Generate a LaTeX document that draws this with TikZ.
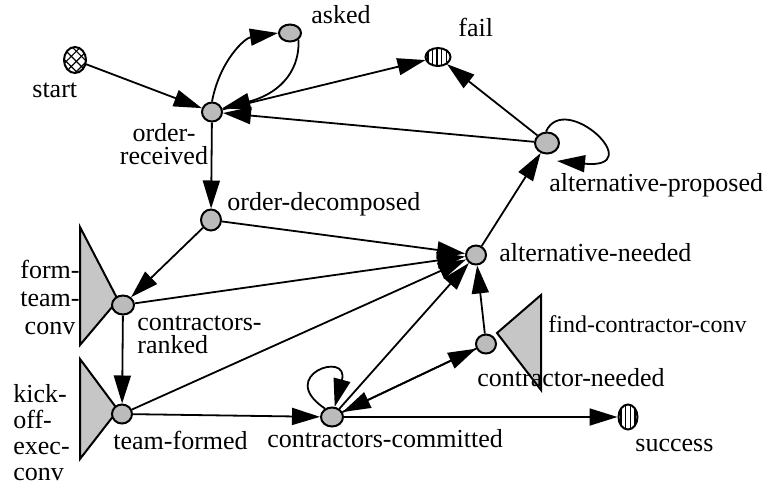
\documentclass[tikz,border=0pt]{standalone}
\usepackage{fontspec}
\setmainfont{Liberation Serif}
\newfontfamily\wfserif{Liberation Serif}
\usepackage{tikz}
\usetikzlibrary{arrows.meta,shapes.geometric,patterns.meta}
\definecolor{wfink}    {HTML}{000000}
\definecolor{wfstipple}{HTML}{BBBBBB}
\definecolor{wfconvbg} {HTML}{C6C6C6}
\tikzset{
  wfstate/.style={ellipse, draw=wfink, line width=1pt, fill=wfstipple, inner sep=0pt,
                  minimum width=10pt, minimum height=9.5pt},
  wfstart/.style={wfstate, fill=white,
                  preaction={pattern={Lines[angle=45,distance=3.6pt,line width=0.6pt]}},
                  pattern={Lines[angle=-45,distance=3.6pt,line width=0.6pt]},
                  minimum width=11pt, minimum height=13pt},
  wfend/.style={wfstate, fill=white,
                pattern={Lines[angle=90,distance=2.3pt,line width=0.7pt]}},
  wfconv/.style={draw=wfink, line width=1pt, fill=wfconvbg, line join=miter},
  wfedge/.style={-{Triangle[length=14pt,width=8.5pt]}, draw=wfink, line width=0.9pt},
  wflabel/.style={font=\wfserif\fontsize{13}{14}\selectfont, inner sep=0pt},
}
\begin{document}
\begin{tikzpicture}[x=0.5pt,y=-0.5pt]
  \useasboundingbox (0,0) rectangle (767,484);
  % conversations
  \draw[wfconv] (80,227) -- (80,345) -- (118,300) -- cycle;
  \draw[wfconv] (80,359) -- (80,459) -- (118,410) -- cycle;
  \draw[wfconv] (541,295) -- (541,390) -- (497,333) -- cycle;
  % states
  \node[wfstart] (start) at (75,60) {};
  \node[wfstate, minimum width=11pt, minimum height=8.5pt] (asked) at (290,33) {};
  \node[wfend, minimum width=12.5pt, minimum height=9pt] (fail) at (438,57) {};
  \node[wfstate] (ordrec) at (212,112) {};
  \node[wfstate, minimum height=10.5pt] (orddec) at (211,220) {};
  \node[wfstate, minimum width=12pt, minimum height=10.5pt] (altprop) at (547,143) {};
  \node[wfstate] (altneed) at (476,255) {};
  \node[wfstate, minimum width=11pt] (ctrrank) at (123,305) {};
  \node[wfstate] (teamform) at (122,414) {};
  \node[wfstate, minimum width=11pt] (ctrcomm) at (332,417) {};
  \node[wfstate] (ctrneed) at (486,344) {};
  \node[wfend, minimum width=9.5pt, minimum height=12.5pt] (success) at (628,417) {};
  \coordinate (apback) at (557,161);
  % labels
  \node[wflabel, anchor=base west] (lstart) at (32,97) {start};
  \node[wflabel, anchor=base west] (lasked) at (311,23) {asked};
  \node[wflabel, anchor=base west] (lfail) at (458,36) {fail};
  \node[wflabel, anchor=north, align=center] (lordrec) at (164,123) {order-\\[-2.5pt]received};
  \node[wflabel, anchor=base west] (lorddec) at (227,210) {order-decomposed};
  \node[wflabel, anchor=base west] (laltprop) at (549,191) {alternative-proposed};
  \node[wflabel, anchor=base west] (laltneed) at (499,261) {alternative-needed};
  \node[wflabel, anchor=north, align=center] (lformteam) at (50,260) {form-\\team-\\conv};
  \node[wflabel, anchor=north west, align=left] (lctrrank) at (137,315) {contractors-\\[-2.5pt]ranked};
  \node[wflabel, anchor=north west, align=left] (lkickoff) at (13,384) {kick-\\[-1pt]off-\\[-1pt]exec-\\[-1pt]conv};
  \node[wflabel, anchor=base west] (lteamform) at (113,449) {team-formed};
  \node[wflabel, anchor=base west] (lctrcomm) at (267,447) {contractors-committed};
  \node[wflabel, anchor=base west] (lctrneed) at (477,386) {contractor-needed};
  \node[wflabel, anchor=base west, font=\wfserif\fontsize{12}{13}\selectfont] (lfindctr) at (548,332) {find-contractor-conv};
  \node[wflabel, anchor=base west] (lsuccess) at (635,451) {success};
  % transitions
  \draw[wfedge] (start) -- (ordrec);
  \draw[wfedge] (ordrec.north) .. controls (220,60) and (245,38) .. (asked.west);
  \draw[wfedge] (asked.south east) .. controls (300,75) and (275,95) .. (ordrec.20);
  \draw[wfedge] (ordrec) -- (fail);
  \draw[wfedge] (altprop) -- (ordrec);
  \draw[wfedge] (altprop) -- (fail);
  \draw[wfedge] (altprop.95) .. controls (565,90) and (650,170) .. (apback);
  \draw[wfedge] (ordrec) -- (orddec);
  \draw[wfedge] (orddec) -- (ctrrank);
  \draw[wfedge] (orddec) -- (altneed);
  \draw[wfedge] (ctrrank) -- (altneed);
  \draw[wfedge] (ctrrank) -- (teamform);
  \draw[wfedge] (teamform) -- (altneed);
  \draw[wfedge] (teamform) -- (ctrcomm);
  \draw[wfedge] (ctrcomm) -- (altneed);
  \draw[wfedge] (ctrcomm.130) .. controls (275,375) and (350,350) .. (ctrcomm.75);
  \draw[wfedge] (ctrcomm) -- (ctrneed);
  \draw[wfedge] (ctrneed) -- (ctrcomm);
  \draw[wfedge] (ctrneed) -- (altneed);
  \draw[wfedge] (altneed) -- (altprop);
  \draw[wfedge] (ctrcomm) -- (success);
\end{tikzpicture}
\end{document}
